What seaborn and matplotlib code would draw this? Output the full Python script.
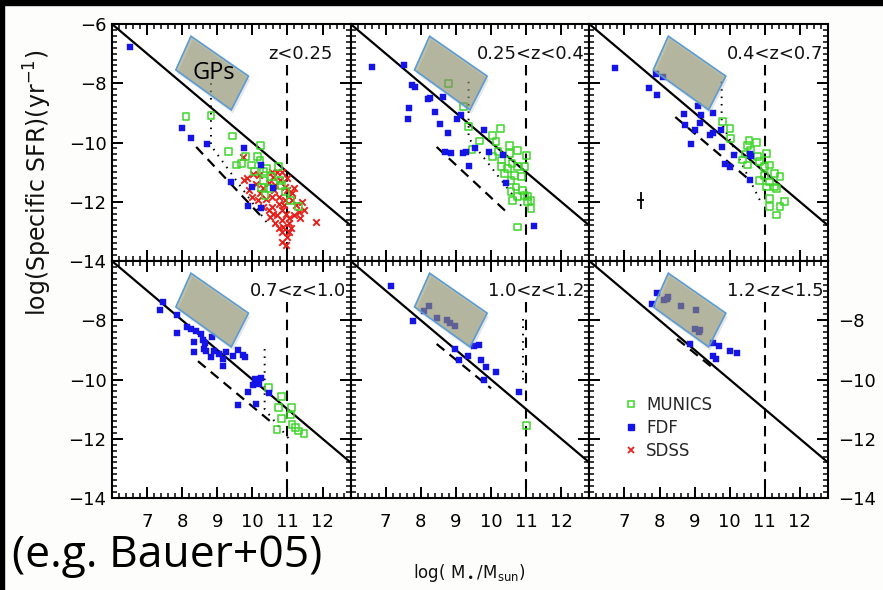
import matplotlib
matplotlib.use("Agg")
import numpy as np
import matplotlib.pyplot as plt
import seaborn as sns
from matplotlib.patches import Polygon, Rectangle
from matplotlib.ticker import MultipleLocator
from matplotlib.lines import Line2D

# ---- data (log M*/Msun, log sSFR) ----
PANEL_LABELS = ["z<0.25", "0.25<z<0.4", "0.4<z<0.7",
                "0.7<z<1.0", "1.0<z<1.2", "1.2<z<1.5"]

FDF_LOGM = [
    [6.51, 7.99, 8.25, 8.71, 9.77, 10.26, 9.40, 9.98, 10.6, 9.88, 10.25],
    [6.62, 7.52, 7.76, 7.82, 8.19, 8.26, 8.62, 7.65, 7.62, 8.39, 8.56, 8.77,
     9.03, 9.15, 9.81, 9.95, 8.69, 8.86, 9.19, 9.28, 9.55, 9.36, 10.34, 10.43,
     11.22],
    [6.74, 7.9, 8.09, 7.69, 7.92, 9.09, 8.71, 8.74, 9.19, 9.14, 9.52, 9.0,
     9.43, 9.52, 8.9, 9.79, 10.12, 10.57, 10.62, 9.86, 10.0, 10.59, 9.75],
    [7.45, 7.36, 7.86, 7.86, 8.15, 8.25, 8.39, 8.54, 8.34, 8.58, 8.65, 8.34,
     8.61, 8.68, 8.84, 8.82, 8.92, 9.06, 9.16, 9.16, 9.26, 9.45, 9.59, 9.74,
     9.78, 9.88, 10.07, 10.15, 10.24, 10.19, 10.02, 9.59, 10.09, 10.46],
    [7.15, 7.79, 8.08, 8.24, 8.46, 8.74, 8.84, 8.97, 9.52, 9.65, 8.97, 9.33,
     9.09, 9.71, 9.87, 10.14, 9.8, 10.81],
    [7.93, 7.79, 8.14, 8.24, 8.2, 8.62, 9.03, 9.0, 9.12, 9.16, 8.88, 9.52,
     9.69, 10.0, 10.21, 9.52, 9.6],
]
FDF_SSFR = [
    [-6.77, -9.52, -9.84, -10.05, -10.2, -10.76, -11.33, -11.5, -11.55,
     -12.14, -12.2],
    [-7.44, -7.39, -8.05, -8.12, -8.54, -8.49, -8.48, -8.85, -9.22, -8.96,
     -9.36, -9.69, -9.19, -9.07, -9.58, -10.31, -10.31, -10.37, -10.37,
     -10.33, -10.2, -10.79, -10.43, -11.38, -12.82],
    [-7.5, -7.69, -7.8, -8.17, -8.4, -8.77, -9.04, -9.41, -9.07, -9.33,
     -9.02, -9.58, -9.75, -9.67, -10.05, -10.14, -10.43, -10.39, -10.46,
     -10.71, -10.84, -11.25, -9.58],
    [-7.38, -7.65, -7.83, -8.43, -8.24, -8.3, -8.35, -8.47, -8.73, -8.66,
     -8.78, -9.06, -8.97, -9.03, -8.55, -9.25, -9.03, -9.14, -9.31, -9.53,
     -9.08, -9.2, -9.01, -9.18, -9.25, -10.41, -9.99, -10.04, -9.96, -10.15,
     -10.19, -10.86, -10.82, -10.44],
    [-6.83, -8.02, -7.68, -7.51, -7.93, -7.98, -8.09, -8.21, -8.86, -8.84,
     -8.97, -9.2, -9.33, -9.34, -9.59, -9.74, -10.02, -10.41],
    [-7.08, -7.45, -7.31, -7.23, -7.28, -7.51, -7.64, -8.3, -8.39, -8.33,
     -8.8, -8.77, -8.88, -9.03, -9.11, -9.2, -9.31],
]

MUNICS_LOGM = [
    [8.11, 8.82, 9.43, 9.33, 10.24, 9.81, 9.69, 9.54, 9.98, 10.14, 10.22,
     10.41, 10.75, 10.05, 10.31, 10.31, 10.55, 10.79, 10.84, 10.26, 10.5,
     10.36, 11.08, 11.32, 10.94],
    [8.79, 9.22, 9.36, 10.27, 10.05, 9.67, 10.14, 10.52, 9.46, 10.05, 10.76,
     11.0, 10.52, 10.29, 10.29, 10.48, 10.76, 10.97, 10.38, 10.67, 10.86,
     10.71, 10.9, 10.57, 11.05, 10.76, 10.62, 11.14, 11.05, 10.76, 10.57,
     10.95, 11.14, 10.6, 10.2],
    [9.79, 10.01, 10.03, 10.55, 10.77, 10.5, 10.6, 10.46, 10.8, 11.04, 10.36,
     10.86, 11.14, 11.0, 10.5, 11.28, 11.0, 11.43, 10.86, 11.14, 11.28,
     11.04, 11.33, 11.14, 11.57, 11.43, 11.14, 11.33],
    [10.46, 10.84, 10.75, 11.11, 10.84, 11.08, 11.13, 11.22, 10.7, 11.47,
     11.32],
    [11.0],
    [],
]
MUNICS_SSFR = [
    [-9.11, -9.1, -9.78, -10.31, -10.09, -10.48, -10.71, -10.76, -10.76,
     -10.48, -10.59, -10.88, -10.82, -10.99, -10.99, -11.27, -11.14, -11.27,
     -11.44, -11.52, -11.55, -11.78, -11.95, -12.17, -11.66],
    [-8.0, -8.79, -9.45, -9.52, -9.75, -9.95, -9.97, -10.09, -10.23, -10.48,
     -10.26, -10.43, -10.37, -10.59, -10.82, -10.88, -10.82, -10.82, -11.04,
     -11.1, -11.16, -11.5, -11.61, -11.66, -11.83, -11.83, -11.95, -12.23,
     -12.0, -12.85, -11.27, -11.78, -11.95, -10.7, -10.3],
    [-9.3, -9.52, -9.86, -9.92, -10.0, -10.09, -10.26, -10.39, -10.48,
     -10.37, -10.59, -10.65, -10.76, -10.82, -10.76, -11.04, -11.1, -11.16,
     -11.27, -11.33, -11.5, -11.5, -11.55, -11.89, -12.0, -12.17, -12.17,
     -12.45],
    [-10.27, -10.57, -10.94, -10.94, -11.31, -11.2, -11.53, -11.62, -11.7,
     -11.83, -11.74],
    [-11.56],
    [],
]

SDSS_LOGM = [9.74, 9.77, 10.02, 9.98, 10.17, 10.46, 10.55, 10.62, 10.75, 10.55,
             10.84, 10.9, 10.7, 10.84, 11.03, 11.18, 11.32, 11.47, 11.13, 10.99,
             11.13, 10.84, 11.03, 10.84, 10.99, 11.8, 10.79, 10.55, 10.7, 10.94,
             10.65, 10.75, 10.94, 10.6, 10.95, 11.03, 10.65, 10.46, 10.31, 10.22,
             10.4, 10.3, 10.1, 9.9, 10.85, 11.0, 11.25, 11.4, 10.88, 11.1, 10.95,
             10.5, 10.6, 11.2, 10.2, 9.85, 11.35, 10.75]
SDSS_SSFR = [-10.48, -11.27, -11.05, -11.83, -11.95, -11.38, -11.83, -11.6,
             -12.06, -12.17, -12.28, -12.1, -12.45, -12.62, -12.56, -12.45,
             -12.34, -12.28, -11.72, -11.61, -11.95, -13.02, -13.02, -13.35,
             -13.19, -12.68, -11.27, -10.99, -10.99, -11.5, -11.45, -11.83,
             -11.95, -12.4, -12.4, -12.73, -12.73, -12.28, -12.17, -11.72,
             -11.9, -11.55, -11.4, -11.6, -11.0, -11.2, -12.1, -12.0, -12.85,
             -12.9, -13.45, -12.5, -11.15, -11.55, -11.1, -11.2, -12.55, -12.9]

# dashed diagonal segment in each panel
DASH_X = [[8.4, 10.22], [8.45, 10.4], [8.45, 10.5],
          [8.45, 10.55], [8.45, 10.0], [8.5, 9.46]]
DASH_Y = [[-10.15, -12.45], [-10.15, -12.3], [-9.14, -11.2],
          [-9.38, -11.45], [-8.8, -10.3], [-8.63, -9.55]]

# dotted limit (vertical then diagonal)
DOT_X = [[8.82, 8.82, 10.41], [9.36, 9.36, 10.9], [9.77, 9.77, 10.86],
         [10.35, 10.35, 11.04], [10.9, 10.9], []]
DOT_Y = [[-8.0, -10.1, -12.7], [-7.95, -9.85, -12.2], [-7.95, -9.35, -11.95],
         [-8.97, -11.0, -12.0], [-7.96, -10.1], []]

SFR_LINE_M = np.array([6.0, 12.8])      # SFR = 1 Msun/yr  ->  sSFR = -M
MASS_CUT = 11.0
MASS_CUT_TOP = -7.4

GP_BOX_M = [7.82, 8.25, 9.89, 9.40]
GP_BOX_S = [-7.55, -6.41, -7.76, -8.9]

ERR_M, ERR_S, ERR_DM, ERR_DS = 7.47, -11.95, 0.1, 0.28

Y_TICKS = [-14, -12, -10, -8, -6]
Y_LABELS_FULL = ["\u221214", "\u221212", "\u221210", "\u22128", "\u22126"]
Y_LABELS_LOW = ["\u221214", "\u221212", "\u221210", "\u22128", ""]
X_TICKS = [6, 7, 8, 9, 10, 11, 12]
X_LABELS = ["", "7", "8", "9", "10", "11", "12"]

BLUE = "#1414e6"
GREEN = "#3ed62a"
RED = "#e8201c"

sns.set_theme(style="ticks")
plt.rcParams["font.family"] = ["DejaVu Sans"]

fig, axes = plt.subplots(2, 3, figsize=(8.83, 5.9), dpi=100)
fig.patch.set_facecolor("#fdfdfb")
fig.subplots_adjust(left=0.1268, right=0.9377, top=0.9593, bottom=0.1559,
                    wspace=0, hspace=0)

for i, ax in enumerate(axes.flat):
    row, col = divmod(i, 3)
    ax.set_facecolor("white")

    ax.plot(SFR_LINE_M, -SFR_LINE_M, color="black", lw=1.6, zorder=2)
    ax.plot([MASS_CUT, MASS_CUT], [MASS_CUT_TOP, -14], color="black", lw=1.5,
            ls=(0, (5, 3.5)), zorder=2)
    ax.plot(DASH_X[i], DASH_Y[i], color="black", lw=1.6, ls=(0, (4.5, 3)),
            zorder=2)
    if DOT_X[i]:
        ax.plot(DOT_X[i], DOT_Y[i], color="black", lw=1.4, ls=(0, (0.8, 3)),
                zorder=2)

    if i == 0:
        sns.scatterplot(x=SDSS_LOGM, y=SDSS_SSFR, ax=ax, marker="x", s=22,
                        color=RED, linewidth=1.4, zorder=3, legend=False)
    if MUNICS_LOGM[i]:
        sns.scatterplot(x=MUNICS_LOGM[i], y=MUNICS_SSFR[i], ax=ax, marker="s",
                        s=24, facecolor="none", edgecolor=GREEN, linewidth=1.1,
                        zorder=4, legend=False)
    sns.scatterplot(x=FDF_LOGM[i], y=FDF_SSFR[i], ax=ax, marker="s", s=18,
                    color=BLUE, edgecolor=BLUE, linewidth=0.3, zorder=5,
                    legend=False)

    if i == 2:
        ax.errorbar([ERR_M], [ERR_S], xerr=ERR_DM, yerr=ERR_DS, fmt="none",
                    ecolor="black", elinewidth=1.3, capsize=0, zorder=5)

    # GPs box (semi-transparent overlay with soft shadow)
    shadow = Polygon(np.column_stack([np.array(GP_BOX_M) + 0.05,
                                      np.array(GP_BOX_S) - 0.12]),
                     closed=True, facecolor="#888888", alpha=0.2,
                     edgecolor="none", zorder=6)
    ax.add_patch(shadow)
    box = Polygon(np.column_stack([GP_BOX_M, GP_BOX_S]), closed=True,
                  facecolor="#8a8d62", alpha=0.55, edgecolor="none", zorder=7)
    ax.add_patch(box)
    ax.add_patch(Polygon(np.column_stack([GP_BOX_M, GP_BOX_S]), closed=True,
                         facecolor="none", edgecolor="#5b9bd5", lw=1.2,
                         zorder=8))

    lx = 0.924 if i == 0 else 0.98
    ax.text(lx, 0.873, PANEL_LABELS[i], transform=ax.transAxes, ha="right",
            va="center", fontsize=13, color="#111111", zorder=9)

    ax.set_xlim(6, 12.8)
    ax.set_ylim(-14, -6)
    ax.set_xticks(X_TICKS)
    ax.set_xticklabels(X_LABELS)
    ax.set_yticks(Y_TICKS)
    ax.set_yticklabels(Y_LABELS_FULL if i == 0 else Y_LABELS_LOW)
    ax.xaxis.set_minor_locator(MultipleLocator(0.2))
    ax.yaxis.set_minor_locator(MultipleLocator(0.2))
    ax.tick_params(which="both", direction="in", top=True, right=True,
                   bottom=True, left=True, colors="black", labelsize=13,
                   labelbottom=(row == 1), labelleft=(col == 0),
                   labelright=(i == 5), labeltop=False)
    ax.tick_params(which="major", length=8, width=1.4)
    ax.tick_params(which="minor", length=3.8, width=1.1)
    ax.tick_params(axis="x", pad=11)
    ax.tick_params(axis="y", pad=4)
    if i == 5:
        ax.tick_params(axis="y", pad=7)
    for sp in ax.spines.values():
        sp.set_linewidth(1.5)
        sp.set_color("black")
    ax.set_xlabel("")
    ax.set_ylabel("")

handles = [
    Line2D([], [], ls="none", marker="s", markersize=5, markerfacecolor="none",
           markeredgecolor=GREEN, markeredgewidth=1.1),
    Line2D([], [], ls="none", marker="s", markersize=4.5, color=BLUE),
    Line2D([], [], ls="none", marker="x", markersize=5, color=RED,
           markeredgewidth=1.3),
]
axes[1, 2].legend(handles, ["MUNICS", "FDF", "SDSS"], loc="center left",
                  bbox_to_anchor=(0.085, 0.297), frameon=False, fontsize=12,
                  handlelength=0.8, handletextpad=0.5, labelspacing=0.3)

fig.text(38 / 883, 0.69, "log(Specific SFR)(yr$^{-1}$)", rotation=90,
         ha="center", va="center", fontsize=17, color="#111111")
fig.text(469 / 883, 1 - 573 / 590, r"log( M$_\bullet$/M$_{\rm sun}$)",
         ha="center", va="center", fontsize=12, color="#111111")
fig.text(12 / 883, 1 - 556 / 590, "(e.g. Bauer+05)", ha="left", va="center",
         fontsize=32, family=["Open Sans", "DejaVu Sans"], color="black")
axes[0, 0].text(8.91, -7.66, "GPs", ha="center", va="center", fontsize=17,
                family=["Open Sans", "DejaVu Sans"], color="black", zorder=10)

# black slide border
fig.patches.append(Rectangle((0, 1 - 5 / 590), 1, 5 / 590,
                             transform=fig.transFigure, color="black",
                             zorder=20))
fig.patches.append(Rectangle((0, 0), 4 / 883, 1, transform=fig.transFigure,
                             color="black", zorder=20))

fig.savefig("out.png", dpi=100, facecolor=fig.get_facecolor())
